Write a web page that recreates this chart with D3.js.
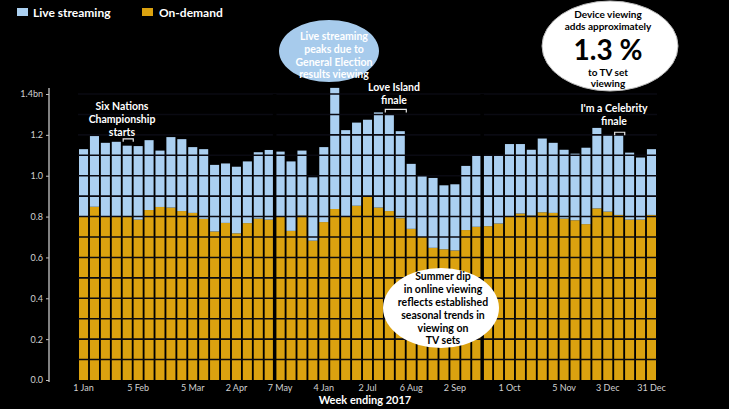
<!DOCTYPE html>
<html>
<head>
<meta charset="utf-8">
<script src="https://cdn.jsdelivr.net/npm/d3@7"></script>
<style>
  html, body { margin: 0; padding: 0; background: #000; }
  svg { display: block; }
  text { font-family: Lato, "Open Sans", sans-serif; }
</style>
</head>
<body>
<svg id="chart" width="729" height="409"></svg>
<script>
// ---- data ----
const weeks = d3.range(53); // weeks ending 1 Jan .. 31 Dec 2017
const totalViewing = [1.13,1.194,1.161,1.166,1.147,1.145,1.174,1.123,1.189,1.179,1.14,1.13,1.053,1.06,1.044,1.07,1.115,1.126,1.118,1.07,1.123,0.992,1.14,1.43,1.223,1.26,1.274,1.31,1.297,1.218,1.058,0.998,0.989,0.953,0.958,1.048,1.098,1.098,1.098,1.155,1.155,1.127,1.182,1.161,1.127,1.108,1.137,1.234,1.198,1.198,1.113,1.089,1.13];
const onDemand = [0.80,0.848,0.80,0.803,0.80,0.785,0.832,0.847,0.844,0.827,0.818,0.789,0.727,0.769,0.718,0.768,0.79,0.785,0.80,0.73,0.805,0.682,0.773,0.837,0.803,0.853,0.898,0.844,0.827,0.792,0.74,0.70,0.647,0.64,0.634,0.734,0.75,0.753,0.766,0.80,0.815,0.805,0.821,0.818,0.79,0.782,0.763,0.84,0.824,0.808,0.785,0.785,0.808];
const liveStreaming = totalViewing.map((t, i) => +(t - onDemand[i]).toFixed(3));
const yTicks = [0, 0.2, 0.4, 0.6, 0.8, 1.0, 1.2, 1.4];
const xTickWeeks = [0, 5, 10, 14, 18, 22, 26, 30, 34, 39, 44, 48, 52];
const xTickLabels = ["1 Jan","5 Feb","5 Mar","2 Apr","7 May","4 Jan","2 Jul","6 Aug","2 Sep","1 Oct","5 Nov","3 Dec","31 Dec"];
const seriesNames = ["Live streaming", "On-demand"];
const breakWeeks = [18, 37];
const brackets = [[4, 4], [28, 29], [49, 49]];

// ---- layout ----
const svg = d3.select("#chart");
const colors = { live: "#abd0f1", od: "#dba20f" };
const x = d3.scaleBand().domain(weeks).range([79, 656]).paddingInner(0.17).paddingOuter(0);
const y = d3.scaleLinear().domain([0, 1.4]).range([380, 94]);

// stacked data
const stackData = weeks.map(i => ({ week: i, od: onDemand[i], live: liveStreaming[i] }));
const stack = d3.stack().keys(["od", "live"])(stackData);

svg.append("g").selectAll("g").data(stack).join("g")
  .attr("fill", d => d.key === "od" ? colors.od : colors.live)
  .selectAll("rect").data(d => d).join("rect")
  .attr("x", d => x(d.data.week))
  .attr("width", x.bandwidth())
  .attr("y", d => y(d[1]))
  .attr("height", d => y(d[0]) - y(d[1]));

// gridlines over bars
svg.append("g").selectAll("line").data(d3.range(1, 15).map(v => v / 10)).join("line")
  .attr("x1", 78).attr("x2", 657)
  .attr("y1", d => y(d)).attr("y2", d => y(d))
  .attr("stroke", "#0a0a12").attr("stroke-width", 1.6);

// break lines
svg.append("g").selectAll("line").data(breakWeeks).join("line")
  .attr("x1", d => x(d) - x.step() * x.paddingInner() / 2)
  .attr("x2", d => x(d) - x.step() * x.paddingInner() / 2)
  .attr("y1", y(1.4)).attr("y2", y(0) + 1)
  .attr("stroke", "#000").attr("stroke-width", 3.5);

// y axis
const yAxis = d3.axisLeft(y).tickValues(yTicks).tickSize(3).tickPadding(3)
  .tickFormat(d => d === 1.4 ? "1.4bn" : d3.format(".1f")(d));
const gy = svg.append("g").attr("transform", "translate(49,0)").call(yAxis);
gy.select(".domain").attr("d", "M0,88V382").attr("stroke", "#d9d9d9").attr("stroke-width", 1.2);
gy.selectAll(".tick line").attr("stroke", "#bfbfbf");
gy.selectAll(".tick text").attr("fill", "#d0d0d0").attr("font-size", 9).style("font-family", "Lato, sans-serif");

// x tick labels
svg.append("g").selectAll("text").data(xTickWeeks).join("text")
  .attr("x", d => x(d) + x.bandwidth() / 2)
  .attr("y", 391)
  .attr("text-anchor", "middle")
  .attr("fill", "#d0d0d0")
  .attr("font-size", 9)
  .text((d, i) => xTickLabels[i]);

svg.append("text").attr("x", 365).attr("y", 404).attr("text-anchor", "middle")
  .attr("fill", "#fff").attr("font-size", 11).attr("font-weight", "bold")
  .text("Week ending 2017");

// legend
const legend = svg.append("g");
[[17, colors.live, 33, seriesNames[0]], [142, colors.od, 159, seriesNames[1]]].forEach(([sx, c, tx, t]) => {
  legend.append("rect").attr("x", sx).attr("y", 8).attr("width", 11).attr("height", 8).attr("fill", c);
  legend.append("text").attr("x", tx).attr("y", 16.5).attr("fill", "#fff")
    .attr("font-size", 12).attr("font-weight", "bold").text(t);
});

// brackets
svg.append("g").selectAll("path").data(brackets).join("path")
  .attr("d", d => {
    const x0 = x(d[0]) + 0.5, x1 = x(d[1]) + x.bandwidth() + 1.5;
    const top = y(d3.max(d3.range(d[0] - 1, d[1] + 1), i => totalViewing[i])) - 3;
    return `M${x0},${top + 3}V${top}H${x1}V${top + 3}`;
  })
  .attr("fill", "none").attr("stroke", "#e8e8e8").attr("stroke-width", 1.2);

// annotation texts
function lines(g, cx, ys, arr, opts) {
  arr.forEach((t, i) => {
    g.append("text").attr("x", cx).attr("y", ys[i]).attr("text-anchor", "middle")
      .attr("fill", opts.fill).attr("font-size", opts.size).attr("font-weight", "bold").text(t);
  });
}
const ann = svg.append("g");
lines(ann, 122, [110, 123, 136], ["Six Nations", "Championship", "starts"], { fill: "#fff", size: 10.5 });
lines(ann, 394, [91, 104], ["Love Island", "finale"], { fill: "#fff", size: 10.5 });
lines(ann, 614, [112, 125], ["I'm a Celebrity", "finale"], { fill: "#fff", size: 10.5 });

// blue ellipse
ann.append("ellipse").attr("cx", 329).attr("cy", 51).attr("rx", 50).attr("ry", 31).attr("fill", "#a7cbec");
lines(ann, 334, [40, 53, 66, 78], ["Live streaming", "peaks due to", "General Election", "results viewing"], { fill: "#fff", size: 10.5 });

// white ellipse top right
ann.append("ellipse").attr("cx", 610).attr("cy", 46).attr("rx", 68).attr("ry", 45)
  .attr("fill", "#fff").attr("stroke", "#bbb").attr("stroke-width", 1);
lines(ann, 608, [18, 30], ["Device viewing", "adds approximately"], { fill: "#000", size: 10 });
ann.append("text").attr("x", 608).attr("y", 60).attr("text-anchor", "middle")
  .attr("font-size", 28).attr("font-weight", "bold").attr("fill", "#000").text("1.3 %");
lines(ann, 608, [76, 87], ["to TV set", "viewing"], { fill: "#000", size: 10 });

// white ellipse summer dip
ann.append("ellipse").attr("cx", 441).attr("cy", 308).attr("rx", 58).attr("ry", 40)
  .attr("fill", "#fff");
lines(ann, 443, [280, 293, 306, 319, 332, 344], ["Summer dip", "in online viewing", "reflects established", "seasonal trends in", "viewing on", "TV sets"], { fill: "#000", size: 10.5 });
</script>
</body>
</html>
